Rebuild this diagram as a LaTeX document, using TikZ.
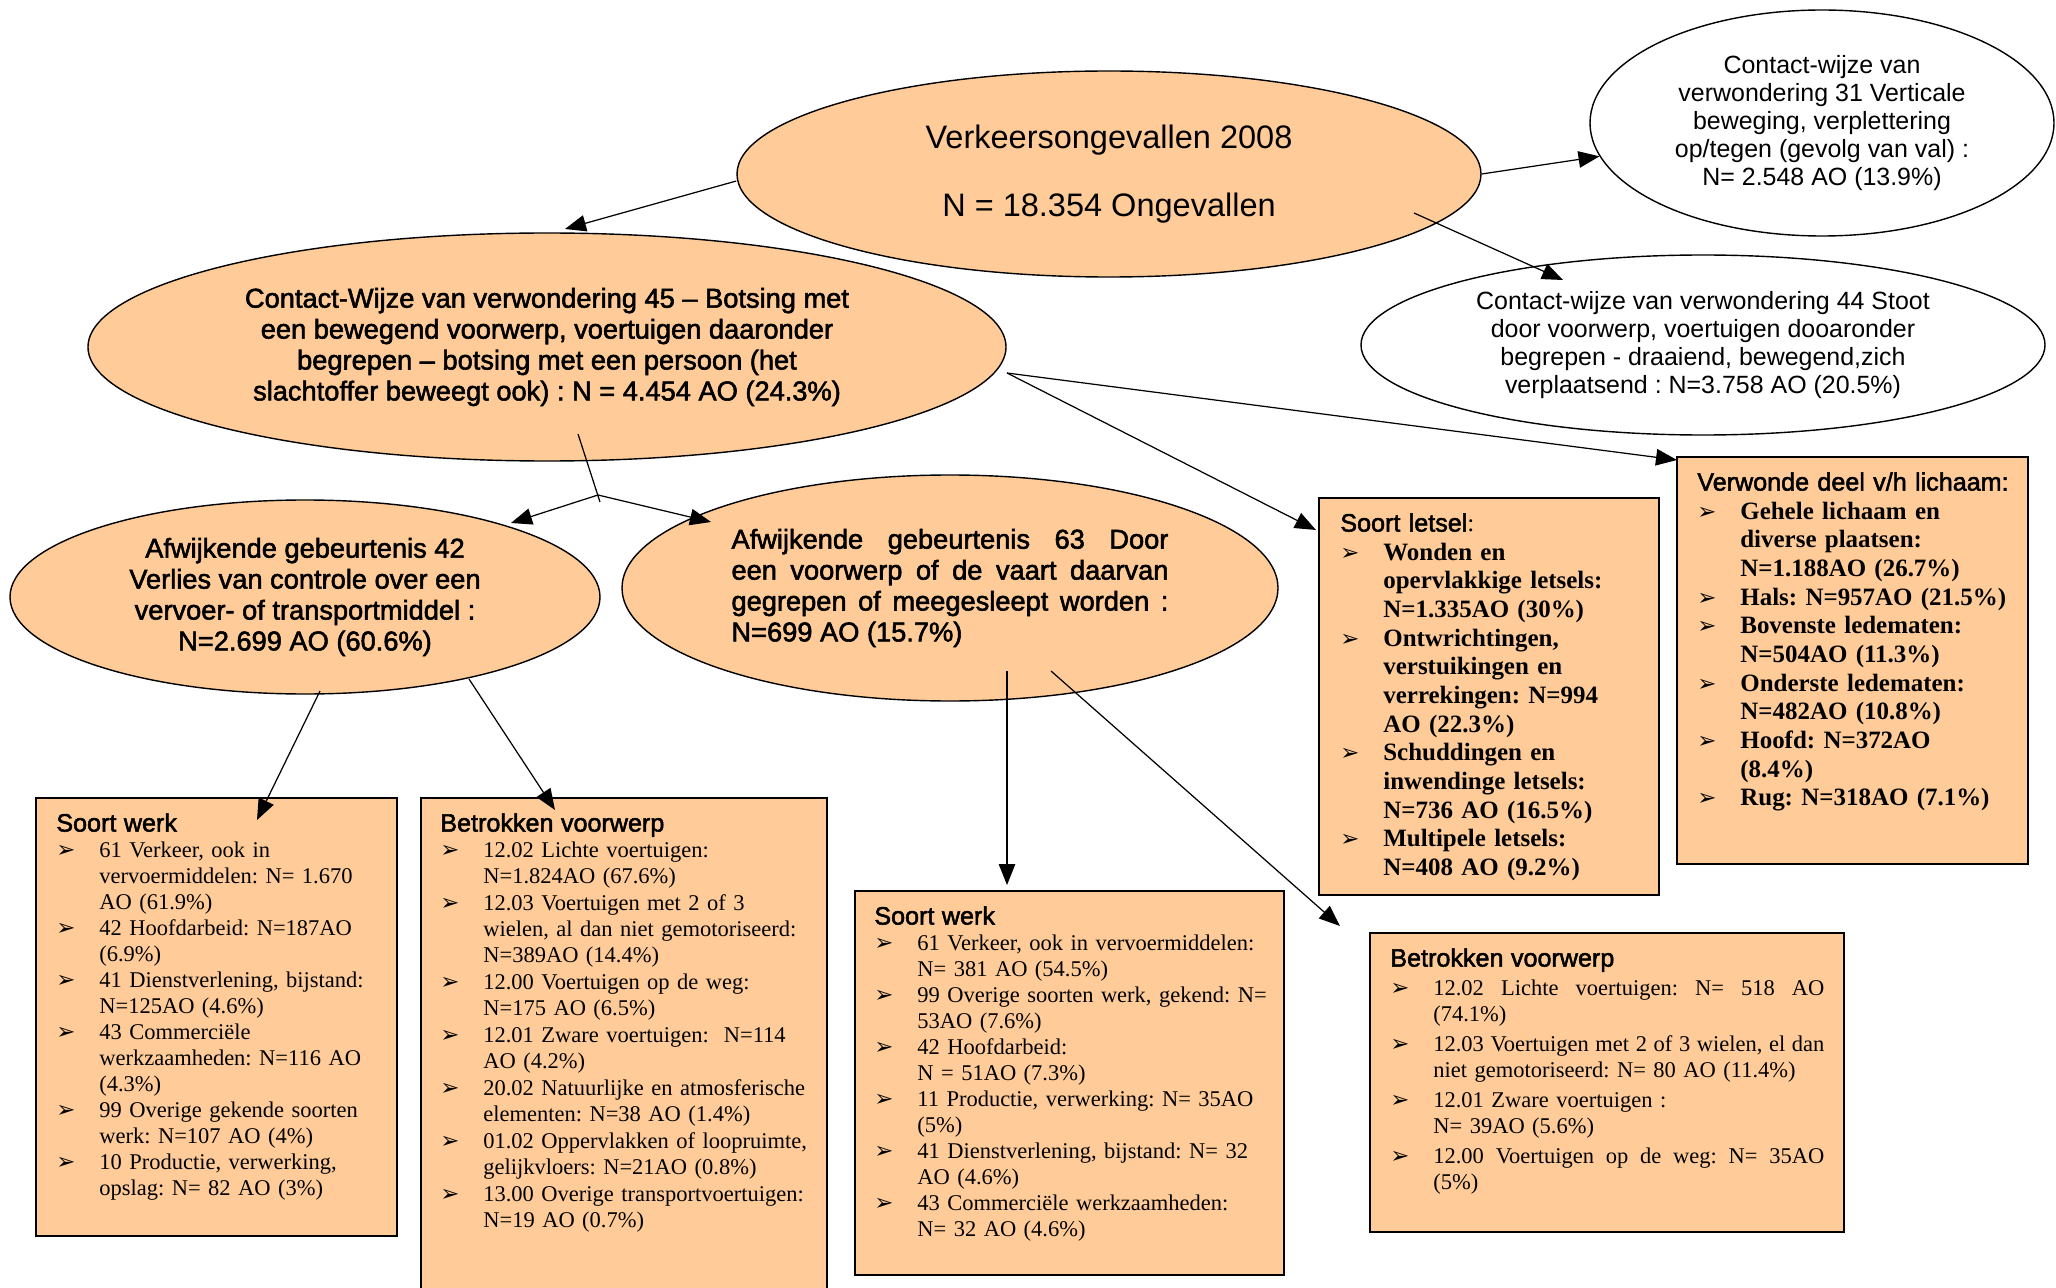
\documentclass[tikz,border=0pt]{standalone}
\usepackage{fontspec}
\setmainfont{Liberation Serif}
\setsansfont{Liberation Sans}
\newfontfamily\heavysans{Liberation Sans}[FakeBold=2]
\newfontfamily\dingfont{DejaVu Sans}
\usetikzlibrary{shapes.geometric,arrows.meta,calc,positioning}
\setlength{\parindent}{0pt}
\frenchspacing

\definecolor{peach}{RGB}{255,204,153}
\newlength{\px}
\setlength{\px}{0.2mm}

\newcommand{\rootfont}{\fontsize{18.5}{21.3}\selectfont\sffamily}
\newcommand{\bubblefont}{\fontsize{15.5}{17.6}\selectfont\heavysans}
\newcommand{\whitefont}{\fontsize{14.2}{15.9}\selectfont\sffamily}
\newcommand{\cardtitle}{\fontsize{14.3}{17}\selectfont\heavysans}
\newcommand{\itemfont}{\fontsize{12.8}{14.8}\selectfont\rmfamily}
\newcommand{\bolditemfont}{\fontsize{14.2}{16.3}\selectfont\rmfamily\bfseries}
\newcommand{\itm}{\makebox[43\px][l]{\dingfont\mdseries\fontsize{13}{14}\selectfont ➢}}
\newcommand{\ind}{\hspace*{43\px}}
\newcommand{\jline}[2]{\makebox[#1\px][s]{\spaceskip=0pt\xspaceskip=0pt #2}}

\tikzset{
    bubble/.style={
            ellipse,
            draw,
            fill={#1},
            line width=0.8pt,
            inner sep=0pt, % text sits free inside
            align=center
        },
    bubble/.default={peach}
}
\tikzset{
    card/.style={
            draw,
            fill=peach,
            line width=1.1pt,
            inner sep=0pt,
            anchor=north west
        }
}
\tikzset{
    cardtext/.style={
            inner sep=0pt,
            align=left,
            text width={#1}
        }
}
\tikzset{
    link/.style={
            line width=0.7pt,
            -{Triangle[length=4.2mm, width=3.3mm]}
        }
}
\newcommand{\linkcoords}{%
    \coordinate (rootL) at ($(root.west)+(0,7)$);
    \coordinate (rootR) at (root.east);
    \coordinate (rootD) at ($(root)+(305,39)$);
    %
    \coordinate (e45in) at ($(e45)+(18,-118)$);
    \coordinate (e44in) at ($(e44)+(-140,-65)$);
    \coordinate (e45R) at ($(e45)+(460,26)$);
    \coordinate (e45D) at ($(e45)+(31,87)$);
    \coordinate (fork) at ($(e45)+(51,148)$);
    \coordinate (forkend) at ($(e45)+(53,155)$);
    %
    \coordinate (e42in) at ($(e42)+(206,-74)$);
    \coordinate (e42L) at ($(e42)+(15,94)$);
    \coordinate (e42R) at ($(e42)+(164,82)$);
    \coordinate (e63in) at ($(e63)+(-239,-66)$);
    \coordinate (e63D) at ($(e63)+(57,83)$);
    \coordinate (e63R) at ($(e63)+(101,83)$);
    %
    \coordinate (letselin) at ($(letsel.north west)+(-2,33)$);
    \coordinate (lichaamin) at ($(lichaam.north west)+(1,4)$);
    \coordinate (werkLin) at ($(werkL.north west)+(222,23)$);
    \coordinate (objLin) at ($(objL.north west)+(135,13)$);
    \coordinate (werkMin) at ($(werkM.north west)+(153,-5)$);
    \coordinate (objRin) at ($(objR.north west)+(-29,-6)$);
}

\begin{document}
\begin{tikzpicture}[x=0.2mm, y=-0.2mm]
    \useasboundingbox (0,0) rectangle (2056,1288);
    \clip (0,0) rectangle (2056,1288);
    %
    % ellipses
    \node [bubble, minimum width=744\px, minimum height=206\px, font=\rootfont] (root) at (1109,174)
    {Verkeersongevallen 2008\\[17pt]N = 18.354 Ongevallen};
    \node [bubble=white, minimum width=464\px, minimum height=226\px, font=\whitefont] (e31) at (1822,123)
    {Contact-wijze van\\verwondering 31 Verticale\\beweging, verplettering\\op/tegen (gevolg van val) :\\N= 2.548 AO (13.9\%)};
    \node [bubble=white, minimum width=684\px, minimum height=180\px, font=\whitefont] (e44) at (1703,345)
    {Contact-wijze van verwondering 44 Stoot\\door voorwerp, voertuigen dooaronder\\begrepen - draaiend, bewegend,zich\\verplaatsend : N=3.758 AO (20.5\%)};
    \node [bubble, minimum width=918\px, minimum height=228\px, font=\bubblefont] (e45) at (547,347)
    {Contact-Wijze van verwondering 45 – Botsing met\\een bewegend voorwerp, voertuigen daaronder\\begrepen – botsing met een persoon (het\\slachtoffer beweegt ook) : N = 4.454 AO (24.3\%)};
    \node [bubble, minimum width=590\px, minimum height=194\px, font=\bubblefont] (e42) at (305,597)
    {Afwijkende gebeurtenis 42\\Verlies van controle over een\\vervoer- of transportmiddel :\\N=2.699 AO (60.6\%)};
    \node [bubble, minimum width=656\px, minimum height=226\px, font=\bubblefont, align=left] (e63) at (950,588)
    {\jline{437}{Afwijkende gebeurtenis 63 Door}\\\jline{437}{een voorwerp of de vaart daarvan}\\\jline{437}{gegrepen of meegesleept worden :}\\N=699 AO (15.7\%)};
    %
    % cards
    \node [card, minimum width=340\px, minimum height=397\px] (letsel) at (1318,497) {};
    \node [cardtext=311\px, font=\bolditemfont, below right=3.2mm and 4.4mm of letsel.north west] (letseltxt)
    {{\cardtitle\mdseries Soort letsel{\rmfamily:}}\\
    \itm Wonden en\\
    \ind opervlakkige letsels:\\
    \ind N=1.335AO (30\%)\\
    \itm Ontwrichtingen,\\
    \ind verstuikingen en\\
    \ind verrekingen: N=994\\
    \ind AO (22.3\%)\\
    \itm Schuddingen en\\
    \ind inwendinge letsels:\\
    \ind N=736 AO (16.5\%)\\
    \itm Multipele letsels:\\
    \ind N=408 AO (9.2\%)};
    %
    \node [card, minimum width=351\px, minimum height=407\px] (lichaam) at (1676,456) {};
    \node [cardtext=322\px, font=\bolditemfont, below right=3.2mm and 4.2mm of lichaam.north west] (lichaamtxt)
    {{\cardtitle\mdseries Verwonde deel v/h lichaam:}\\
    \itm Gehele lichaam en\\
    \ind diverse plaatsen:\\
    \ind N=1.188AO (26.7\%)\\
    \itm Hals: N=957AO (21.5\%)\\
    \itm Bovenste ledematen:\\
    \ind N=504AO (11.3\%)\\
    \itm Onderste ledematen:\\
    \ind N=482AO (10.8\%)\\
    \itm Hoofd: N=372AO\\
    \ind (8.4\%)\\
    \itm Rug: N=318AO (7.1\%)};
    %
    \node [card, minimum width=361\px, minimum height=438\px] (werkL) at (35,797) {};
    \node [cardtext=332\px, font=\itemfont, below right=3.2mm and 4.2mm of werkL.north west] (werkLtxt)
    {{\cardtitle Soort werk}\\
    \itm 61 Verkeer, ook in\\
    \ind vervoermiddelen: N= 1.670\\
    \ind AO (61.9\%)\\
    \itm 42 Hoofdarbeid: N=187AO\\
    \ind (6.9\%)\\
    \itm 41 Dienstverlening, bijstand:\\
    \ind N=125AO (4.6\%)\\
    \itm 43 Commerciële\\
    \ind werkzaamheden: N=116 AO\\
    \ind (4.3\%)\\
    \itm 99 Overige gekende soorten\\
    \ind werk: N=107 AO (4\%)\\
    \itm 10 Productie, verwerking,\\
    \ind opslag: N= 82 AO (3\%)};
    %
    \node [card, minimum width=406\px, minimum height=520\px] (objL) at (420,797) {};
    \node [cardtext=377\px, font=\itemfont, below right=3.2mm and 4mm of objL.north west] (objLtxt)
    {{\cardtitle Betrokken voorwerp}\\
    \itm 12.02 Lichte voertuigen:\\
    \ind N=1.824AO (67.6\%)\\[1\px]
    \itm 12.03 Voertuigen met 2 of 3\\
    \ind wielen, al dan niet gemotoriseerd:\\
    \ind N=389AO (14.4\%)\\[1\px]
    \itm 12.00 Voertuigen op de weg:\\
    \ind N=175 AO (6.5\%)\\[1\px]
    \itm 12.01 Zware voertuigen:~ N=114\\
    \ind AO (4.2\%)\\[1\px]
    \itm 20.02 Natuurlijke en atmosferische\\
    \ind elementen: N=38 AO (1.4\%)\\[1\px]
    \itm 01.02 Oppervlakken of loopruimte,\\
    \ind gelijkvloers: N=21AO (0.8\%)\\[1\px]
    \itm 13.00 Overige transportvoertuigen:\\
    \ind N=19 AO (0.7\%)};
    %
    \node [card, minimum width=429\px, minimum height=384\px] (werkM) at (854,890) {};
    \node [cardtext=400\px, font=\itemfont, below right=3.2mm and 4mm of werkM.north west] (werkMtxt)
    {{\cardtitle Soort werk}\\
    \itm 61 Verkeer, ook in vervoermiddelen:\\
    \ind N= 381 AO (54.5\%)\\
    \itm 99 Overige soorten werk, gekend: N=\\
    \ind 53AO (7.6\%)\\
    \itm 42 Hoofdarbeid:\\
    \ind N = 51AO (7.3\%)\\
    \itm 11 Productie, verwerking: N= 35AO\\
    \ind (5\%)\\
    \itm 41 Dienstverlening, bijstand: N= 32\\
    \ind AO (4.6\%)\\
    \itm 43 Commerciële werkzaamheden:\\
    \ind N= 32 AO (4.6\%)};
    %
    \node [card, minimum width=474\px, minimum height=299\px] (objR) at (1369,932) {};
    \node [cardtext=448\px, font=\itemfont, below right=3.2mm and 4.2mm of objR.north west] (objRtxt)
    {{\cardtitle Betrokken voorwerp}\\[3\px]
    \itm \jline{391}{12.02 Lichte voertuigen: N= 518 AO}\\
    \ind (74.1\%)\\[4\px]
    \itm \jline{391}{12.03 Voertuigen met 2 of 3 wielen, el dan}\\
    \ind niet gemotoriseerd: N= 80 AO (11.4\%)\\[4\px]
    \itm 12.01 Zware voertuigen :\\
    \ind N= 39AO (5.6\%)\\[4\px]
    \itm \jline{391}{12.00 Voertuigen op de weg: N= 35AO}\\
    \ind (5\%)};
    %
    % connectors
    \linkcoords
    \path
    (rootL) edge[link] (e45in)
    (rootR) edge[link] (e31)
    (rootD) edge[link] (e44in)
    (e45R) edge[link] (letselin)
    (e45R) edge[link] (lichaamin)
    ;
    \draw [line width=0.7pt] (e45D) -- (forkend);
    \path
    (fork) edge[link] (e42in)
    (fork) edge[link] (e63in)
    (e42L) edge[link] (werkLin)
    (e42R) edge[link] (objLin)
    (e63D) edge[link] (werkMin)
    (e63R) edge[link] (objRin)
    ;
\end{tikzpicture}
\end{document}
